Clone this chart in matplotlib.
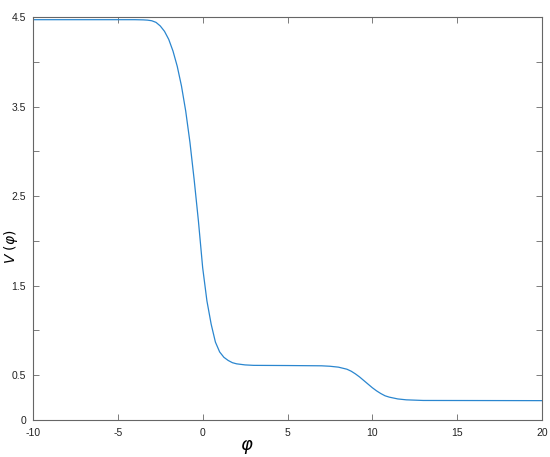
import matplotlib
matplotlib.use("Agg")
import matplotlib.pyplot as plt

# values
phi = [-10, -6, -4, -3.5, -3.25, -3, -2.75, -2.5, -2.25, -2.0, -1.75, -1.5, -1.25, -1.0,
       -0.75, -0.5, -0.25, 0.0, 0.25, 0.5, 0.75, 1.0, 1.25, 1.5, 1.75, 2.0, 2.5, 3.0,
       5.0, 7.0, 7.5, 8.0, 8.5, 8.75, 9.0, 9.25, 9.5, 9.75, 10.0, 10.25, 10.5, 10.75,
       11.0, 11.5, 12.0, 13.0, 20.0]
V = [4.47, 4.47, 4.47, 4.468, 4.465, 4.458, 4.44, 4.40, 4.34, 4.25, 4.12, 3.95, 3.73, 3.45,
     3.10, 2.68, 2.22, 1.70, 1.33, 1.07, 0.87, 0.76, 0.70, 0.665, 0.64, 0.627, 0.615, 0.61,
     0.608, 0.605, 0.60, 0.59, 0.567, 0.545, 0.515, 0.48, 0.44, 0.40, 0.36, 0.325, 0.295, 0.27,
     0.255, 0.235, 0.225, 0.218, 0.216]

yticks = [0, 0.5, 1, 1.5, 2, 2.5, 3, 3.5, 4, 4.5]
ytick_labels = ["0", "0.5", "", "1.5", "", "2.5", "", "3.5", "", "4.5"]
xticks = [-10, -5, 0, 5, 10, 15, 20]

plt.rcParams["font.family"] = ["Liberation Sans", "DejaVu Sans"]
plt.rcParams["axes.unicode_minus"] = False

fig = plt.figure(figsize=(5.5, 4.57), dpi=100)
ax = fig.add_axes([0.06, 0.081, 0.9255, 0.8818])

ax.plot(phi, V, color="#2a86cf", linewidth=0.9)

ax.set_xlim(-10, 20)
ax.set_ylim(0, 4.5)
ax.set_xticks(xticks)
ax.set_yticks(yticks)
ax.set_yticklabels(ytick_labels)

edge = "#666666"
for s in ax.spines.values():
    s.set_color(edge)
    s.set_linewidth(0.8)
ax.tick_params(direction="in", length=4, width=0.6, colors=edge,
               labelcolor="#222222", labelsize=7.5,
               top=True, right=True)
ax.tick_params(axis="x", pad=6)
ax.tick_params(axis="y", pad=5)

ax.set_xlabel(r"$\varphi$", fontsize=13)
ax.xaxis.set_label_coords(0.42, -0.045)
ax.set_ylabel(r"$V\ (\varphi)$", fontsize=10)
ax.yaxis.set_label_coords(-0.026, 0.43)

fig.savefig("out.png", dpi=100)
